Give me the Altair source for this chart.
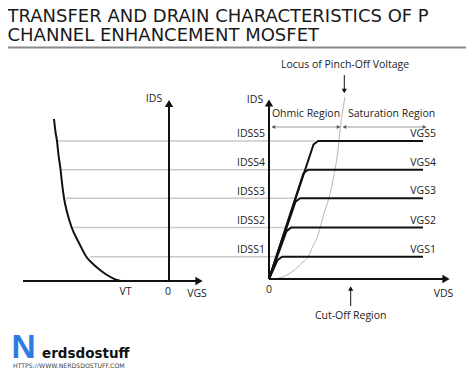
import altair as alt
import pandas as pd

# ---------------- data (diagram units = screen px) -------------
title_lines = ["TRANSFER AND DRAIN CHARACTERISTICS OF P", "CHANNEL ENHANCEMENT MOSFET"]
title_x = [7.5, 7.5]
title_y = [21.8, 41.2]

level_names = ["1", "2", "3", "4", "5"]
level_y = [256.7, 227.6, 198.2, 169.8, 141.0]          # IDSS1..IDSS5 / VGS1..VGS5
transfer_x_at_level = [90, 73, 66, 61, 57]               # where the grid line meets transfer curve
knee_x = [279, 288, 297, 305, 315]                       # knee of each drain curve
sat_end_x = 423

# transfer characteristic (left)
transfer_cx = [54, 55.5, 57, 58.5, 60.5, 62, 64, 67, 71.5, 79, 86.5, 92, 97, 102, 107, 113, 120]
transfer_cy = [119, 132, 141, 155, 169, 183, 198, 212, 227, 243, 257, 263, 267.5, 271.5, 275, 278.3, 280.8]

# locus of pinch-off voltage (thin grey curve)
locus_x = [269, 276, 283, 293, 303, 308, 313, 317, 320, 325, 329, 333, 336, 338, 340, 342, 345]
locus_y = [279, 278.5, 277, 271, 262, 257, 246, 238, 228, 210, 198, 180, 164, 150, 130, 115, 97]

origin_right = (269, 279)

# axes (rules)
axes_x = [169, 23, 269, 269]
axes_x2 = [169, 197, 269, 444]
axes_y = [106, 281, 105, 279]
axes_y2 = [281, 281, 279, 279]

# big arrow heads
big_arrow_x = [169, 199, 269, 446]
big_arrow_y = [103.5, 281, 103, 279]
big_arrow_shape = ["triangle-up", "triangle-right", "triangle-up", "triangle-right"]

# annotation arrows
small_arrow_x = [344.3, 350.7]
small_arrow_y = [91.0, 288.5]
small_arrow_shape = ["triangle-down", "triangle-up"]
stem_x = [344.3, 350.7]
stem_y = [75, 289]
stem_y2 = [90, 306]

# region dimension lines
dim_x = [272, 343]
dim_x2 = [340, 426]
dim_y = 127
dim_arrow_x = [273.5, 338.5, 344.5, 424.5]
dim_arrow_shape = ["triangle-left", "triangle-right", "triangle-left", "triangle-right"]

center_labels = ["IDS", "VT", "0", "VGS", "IDS", "0", "VDS",
                 "Ohmic Region", "Saturation Region",
                 "Locus of Pinch-Off Voltage", "Cut-Off Region"]
center_x = [154, 125.5, 168, 197, 255, 269, 443.5, 306, 391.5, 345, 350.7]
center_y = [102, 295, 295, 297, 103, 293, 297, 117, 117, 68, 319]

# ---------------- build tables ----------------
X = alt.Scale(domain=[8, 466], nice=False, zero=False)
Y = alt.Scale(domain=[8, 368], nice=False, zero=False, reverse=True)

def xe(f="x"):
    return alt.X(f"{f}:Q", scale=X, axis=None)

def ye(f="y"):
    return alt.Y(f"{f}:Q", scale=Y, axis=None)

grid = pd.DataFrame({"x": transfer_x_at_level, "x2": knee_x, "y": level_y})
grid_layer = alt.Chart(grid).mark_rule(color="#c9c9c9", strokeWidth=1.5).encode(
    x=xe(), x2="x2:Q", y=ye())

sep = pd.DataFrame({"x": [8], "x2": [466], "y": [47.5]})
sep_layer = alt.Chart(sep).mark_rule(color="#8a8a8a", strokeWidth=2).encode(
    x=xe(), x2="x2:Q", y=ye())

axes = pd.DataFrame({"x": axes_x, "x2": axes_x2, "y": axes_y, "y2": axes_y2})
axes_layer = alt.Chart(axes).mark_rule(color="#111111", strokeWidth=2).encode(
    x=xe(), x2="x2:Q", y=ye(), y2="y2:Q")

big_arrows = pd.DataFrame({"x": big_arrow_x, "y": big_arrow_y, "s": big_arrow_shape})
big_arrow_layer = alt.Chart(big_arrows).mark_point(
    filled=True, color="#111111", size=70, opacity=1).encode(
    x=xe(), y=ye(), shape=alt.Shape("s:N", scale=None))

small_arrows = pd.DataFrame({"x": small_arrow_x, "y": small_arrow_y, "s": small_arrow_shape})
small_arrow_layer = alt.Chart(small_arrows).mark_point(
    filled=True, color="#111111", size=28, opacity=1).encode(
    x=xe(), y=ye(), shape=alt.Shape("s:N", scale=None))

stems = pd.DataFrame({"x": stem_x, "y": stem_y, "y2": stem_y2})
stem_layer = alt.Chart(stems).mark_rule(color="#111111", strokeWidth=1).encode(
    x=xe(), y=ye(), y2="y2:Q")

dims = pd.DataFrame({"x": dim_x, "x2": dim_x2, "y": [dim_y, dim_y]})
dim_layer = alt.Chart(dims).mark_rule(color="#9a9a9a", strokeWidth=1).encode(
    x=xe(), x2="x2:Q", y=ye())

dim_arrows = pd.DataFrame({"x": dim_arrow_x, "y": [dim_y] * 4, "s": dim_arrow_shape})
dim_arrow_layer = alt.Chart(dim_arrows).mark_point(
    filled=True, color="#555555", size=16, opacity=1).encode(
    x=xe(), y=ye(), shape=alt.Shape("s:N", scale=None))

tc = pd.DataFrame({"x": transfer_cx, "y": transfer_cy})
tc_layer = alt.Chart(tc).mark_line(color="#111111", strokeWidth=2, interpolate="monotone").encode(
    x=xe(), y=ye())

lc = pd.DataFrame({"x": locus_x, "y": locus_y})
lc_layer = alt.Chart(lc).mark_line(color="#b5b5b5", strokeWidth=1, interpolate="monotone").encode(
    x=xe(), y=ye())

rows = []
for name, ly, kx in zip(level_names, level_y, knee_x):
    pts = [(origin_right[0], origin_right[1]), (kx - 1.5, ly + 3.5), (kx + 3, ly), (sat_end_x, ly)]
    for i, (px, py) in enumerate(pts):
        rows.append({"curve": "VGS" + name, "x": px, "y": py, "o": i})
dc = pd.DataFrame(rows)
dc_layer = alt.Chart(dc).mark_line(color="#111111", strokeWidth=2, strokeJoin="round").encode(
    x=xe(), y=ye(), detail="curve:N", order="o:Q")

LABEL_FONT = "Open Sans"
txt_c = pd.DataFrame({"t": center_labels, "x": center_x, "y": center_y})
txt_c_layer = alt.Chart(txt_c).mark_text(
    font=LABEL_FONT, fontSize=10.5, color="#222222", align="center", baseline="alphabetic").encode(
    x=xe(), y=ye(), text="t:N")

txt_l = pd.DataFrame({"t": ["IDSS" + n for n in level_names], "x": [237] * 5,
                      "y": [v - 3.6 for v in level_y]})
txt_l_layer = alt.Chart(txt_l).mark_text(
    font=LABEL_FONT, fontSize=10.5, color="#222222", align="left", baseline="alphabetic").encode(
    x=xe(), y=ye(), text="t:N")

txt_r = pd.DataFrame({"t": ["VGS" + n for n in level_names], "x": [436] * 5,
                      "y": [v - 3.8 for v in level_y]})
txt_r_layer = alt.Chart(txt_r).mark_text(
    font=LABEL_FONT, fontSize=10.5, color="#222222", align="right", baseline="alphabetic").encode(
    x=xe(), y=ye(), text="t:N")

title_df = pd.DataFrame({"t": title_lines, "x": title_x, "y": title_y})
title_layer = alt.Chart(title_df).mark_text(
    font="DejaVu Sans", fontSize=18, color="#1a1a1a", align="left", baseline="alphabetic").encode(
    x=xe(), y=ye(), text="t:N")

logo_n = alt.Chart(pd.DataFrame({"t": ["N"], "x": [11.5], "y": [357.5]})).mark_text(
    font="Liberation Sans", fontWeight="bold", fontSize=33.5, color="#2e7be3",
    align="left", baseline="alphabetic").encode(x=xe(), y=ye(), text="t:N")
logo_word = alt.Chart(pd.DataFrame({"t": ["erdsdostuff"], "x": [42], "y": [358]})).mark_text(
    font="DejaVu Sans", fontWeight="bold", fontSize=13.5, color="#111111",
    align="left", baseline="alphabetic").encode(x=xe(), y=ye(), text="t:N")
logo_url = alt.Chart(pd.DataFrame({"t": ["HTTPS://WWW.NERDSDOSTUFF.COM"], "x": [13], "y": [367.6]})).mark_text(
    font="DejaVu Sans", fontSize=6.2, color="#444444",
    align="left", baseline="alphabetic").encode(x=xe(), y=ye(), text="t:N")

chart = alt.layer(
    sep_layer, grid_layer, lc_layer, dim_layer, dim_arrow_layer,
    axes_layer, big_arrow_layer, tc_layer, dc_layer,
    stem_layer, small_arrow_layer,
    txt_c_layer, txt_l_layer, txt_r_layer, title_layer,
    logo_n, logo_word, logo_url,
).properties(
    width=458, height=360, padding=0, autosize=alt.AutoSizeParams(type="none"),
    background="white",
).configure_view(stroke=None)

chart.save("out.html", embed_options={"renderer": "svg", "actions": False})
